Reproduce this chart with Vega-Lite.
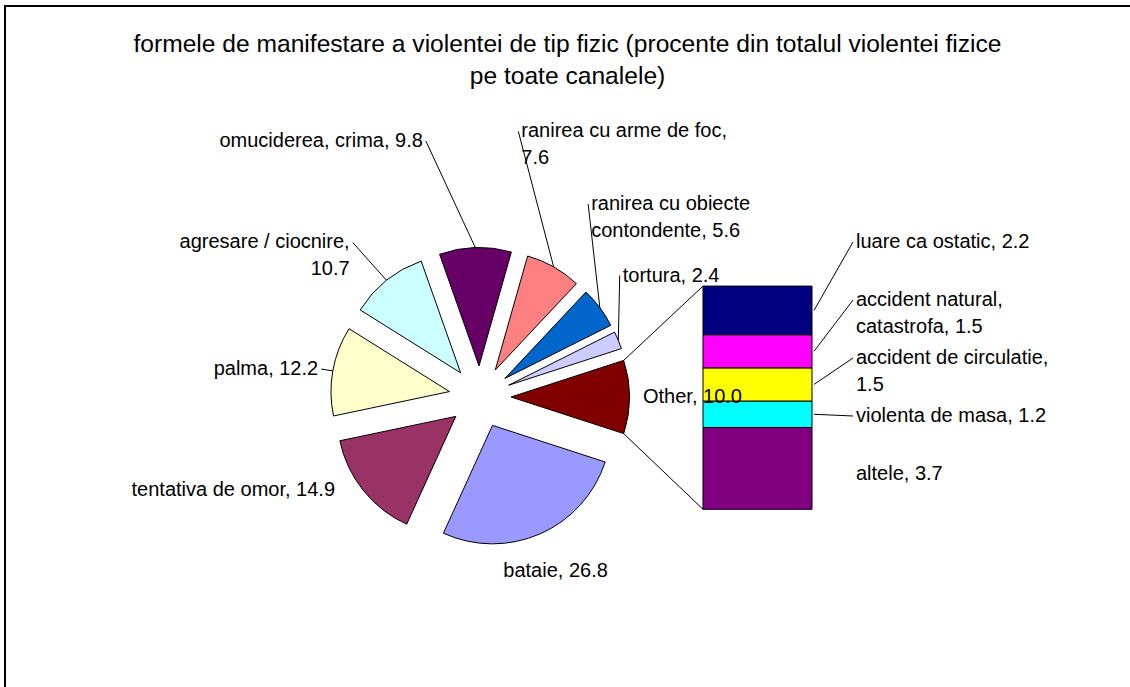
{
  "$schema": "https://vega.github.io/schema/vega-lite/v6.json",
  "autosize": {"type": "none"},
  "width": 1125,
  "height": 681,
  "padding": {"left": 5, "top": 6, "right": 0, "bottom": 0},
  "background": "white",
  "config": {"view": {"stroke": null}},
  "title": {
    "text": ["formele de manifestare a violentei de tip fizic (procente din totalul violentei fizice", "pe toate canalele)"],
    "font": "Liberation Sans", "fontSize": 24.6, "fontWeight": "normal", "color": "black",
    "anchor": "middle", "frame": "group", "baseline": "top", "lineHeight": 32, "offset": -85
  },
  "data": {"values": [
    {"grp": "pie", "k": 1, "label": "Other", "value": 10.0, "t": "Other, 10.0"},
    {"grp": "pie", "k": 2, "label": "bataie", "value": 26.8, "t": "bataie, 26.8"},
    {"grp": "pie", "k": 3, "label": "tentativa de omor", "value": 14.9, "t": "tentativa de omor, 14.9"},
    {"grp": "pie", "k": 4, "label": "palma", "value": 12.2, "t": "palma, 12.2"},
    {"grp": "pie", "k": 5, "label": "agresare / ciocnire", "value": 10.7, "t": "agresare / ciocnire,\n10.7"},
    {"grp": "pie", "k": 6, "label": "omuciderea, crima", "value": 9.8, "t": "omuciderea, crima, 9.8"},
    {"grp": "pie", "k": 7, "label": "ranirea cu arme de foc", "value": 7.6, "t": "ranirea cu arme de foc,\n7.6"},
    {"grp": "pie", "k": 8, "label": "ranirea cu obiecte contondente", "value": 5.6, "t": "ranirea cu obiecte\ncontondente, 5.6"},
    {"grp": "pie", "k": 9, "label": "tortura", "value": 2.4, "t": "tortura, 2.4"},
    {"grp": "bar", "k": 1, "label": "altele", "value": 3.7, "t": "altele, 3.7"},
    {"grp": "bar", "k": 2, "label": "violenta de masa", "value": 1.2, "t": "violenta de masa, 1.2"},
    {"grp": "bar", "k": 3, "label": "accident de circulatie", "value": 1.5, "t": "accident de circulatie,\n1.5"},
    {"grp": "bar", "k": 4, "label": "accident natural, catastrofa", "value": 1.5, "t": "accident natural,\ncatastrofa, 1.5"},
    {"grp": "bar", "k": 5, "label": "luare ca ostatic", "value": 2.2, "t": "luare ca ostatic, 2.2"}
  ]},
  "transform": [
    {"window": [{"op": "sum", "field": "value", "as": "cum"}], "groupby": ["grp"], "sort": [{"field": "k", "order": "ascending"}], "frame": [null, 0]},
    {"calculate": "datum.cum - datum.value", "as": "start"},
    {"calculate": "1.2566371 + (datum.cum - datum.value / 2) * 2 * PI / 100", "as": "mid"},
    {"calculate": "31 * sin(datum.mid)", "as": "ex"},
    {"calculate": "31 * cos(datum.mid)", "as": "ey"},
    {"calculate": "149.5 * sin(datum.mid)", "as": "sx"},
    {"calculate": "149.5 * cos(datum.mid)", "as": "sy"},
    {"calculate": "datum.mid - 0.314 * cos(datum.mid)", "as": "mp"},
    {"calculate": "160 * sin(datum.mp)", "as": "lx"},
    {"calculate": "(225 + 50 * cos(datum.mp)) * cos(datum.mp)", "as": "ly"},
    {"calculate": "datum.ex + 118.5 * sin(1.2566371 + datum.start * 2 * PI / 100)", "as": "c0x"},
    {"calculate": "datum.ey + 118.5 * cos(1.2566371 + datum.start * 2 * PI / 100)", "as": "c0y"},
    {"calculate": "datum.ex + 118.5 * sin(1.2566371 + datum.cum * 2 * PI / 100)", "as": "c1x"},
    {"calculate": "datum.ey + 118.5 * cos(1.2566371 + datum.cum * 2 * PI / 100)", "as": "c1y"},
    {"calculate": "-112.3 + 22.1 * (datum.cum - datum.value)", "as": "b0"},
    {"calculate": "-112.3 + 22.1 * datum.cum", "as": "b1"},
    {"calculate": "(datum.b0 + datum.b1) / 2", "as": "bm"},
    {"calculate": "155 - 58 * (5 - datum.k)", "as": "bly"}
  ],
  "layer": [
    {
      "transform": [{"filter": "datum.grp == 'pie' && datum.k == 1"}],
      "mark": {"type": "rect", "filled": false, "stroke": "black", "strokeWidth": 2},
      "encoding": {
        "x": {"datum": -475, "type": "quantitative", "scale": {"domain": [-475, 650], "nice": false, "zero": false}, "axis": null},
        "x2": {"datum": 900},
        "y": {"datum": 391, "type": "quantitative", "scale": {"domain": [-290, 391], "nice": false, "zero": false}, "axis": null},
        "y2": {"datum": -600}
      }
    },
    {
      "transform": [{"filter": "datum.grp == 'pie'"}],
      "mark": {"type": "arc", "outerRadius": 118.5, "innerRadius": 0, "stroke": "black", "strokeWidth": 1},
      "encoding": {
        "x": {"field": "ex", "type": "quantitative", "scale": {"domain": [-475, 650], "nice": false, "zero": false}, "axis": null},
        "y": {"field": "ey", "type": "quantitative", "scale": {"domain": [-290, 391], "nice": false, "zero": false}, "axis": null},
        "theta": {"field": "start", "type": "quantitative", "stack": null, "scale": {"domain": [0, 100], "range": [1.2566371, 7.5398224]}},
        "theta2": {"field": "cum"},
        "color": {"field": "label", "type": "nominal", "legend": null, "scale": {
          "domain": ["Other", "bataie", "tentativa de omor", "palma", "agresare / ciocnire", "omuciderea, crima", "ranirea cu arme de foc", "ranirea cu obiecte contondente", "tortura", "altele", "violenta de masa", "accident de circulatie", "accident natural, catastrofa", "luare ca ostatic"],
          "range": ["#800000", "#9999FF", "#993366", "#FFFFCC", "#CCFFFF", "#660066", "#FF8080", "#0066CC", "#CCCCFF", "#800080", "#00FFFF", "#FFFF00", "#FF00FF", "#000080"]}}
      }
    },
    {
      "transform": [{"filter": "datum.grp == 'pie' && datum.k == 1"}],
      "mark": {"type": "rule", "color": "black", "strokeWidth": 1},
      "encoding": {
        "x": {"field": "c0x", "type": "quantitative", "scale": {"domain": [-475, 650], "nice": false, "zero": false}, "axis": null},
        "y": {"field": "c0y", "type": "quantitative", "scale": {"domain": [-290, 391], "nice": false, "zero": false}, "axis": null},
        "x2": {"datum": 223},
        "y2": {"datum": 110.9}
      }
    },
    {
      "transform": [{"filter": "datum.grp == 'pie' && datum.k == 1"}],
      "mark": {"type": "rule", "color": "black", "strokeWidth": 1},
      "encoding": {
        "x": {"field": "c1x", "type": "quantitative", "scale": {"domain": [-475, 650], "nice": false, "zero": false}, "axis": null},
        "y": {"field": "c1y", "type": "quantitative", "scale": {"domain": [-290, 391], "nice": false, "zero": false}, "axis": null},
        "x2": {"datum": 223},
        "y2": {"datum": -112.3}
      }
    },
    {
      "transform": [{"filter": "datum.grp == 'bar'"}],
      "mark": {"type": "rect", "stroke": "black", "strokeWidth": 1},
      "encoding": {
        "x": {"datum": 223, "type": "quantitative", "scale": {"domain": [-475, 650], "nice": false, "zero": false}, "axis": null},
        "x2": {"datum": 332},
        "y": {"field": "b0", "type": "quantitative", "scale": {"domain": [-290, 391], "nice": false, "zero": false}, "axis": null},
        "y2": {"field": "b1"},
        "color": {"field": "label", "type": "nominal", "legend": null}
      }
    },
    {
      "transform": [{"filter": "datum.grp == 'pie' && cos(datum.mid) > 0.1"}],
      "mark": {"type": "rule", "color": "black", "strokeWidth": 1},
      "encoding": {
        "x": {"field": "sx", "type": "quantitative", "scale": {"domain": [-475, 650], "nice": false, "zero": false}, "axis": null},
        "y": {"field": "sy", "type": "quantitative", "scale": {"domain": [-290, 391], "nice": false, "zero": false}, "axis": null},
        "x2": {"field": "lx"},
        "y2": {"field": "ly"}
      }
    },
    {
      "transform": [{"filter": "datum.grp == 'pie' && sin(datum.mp) > 0"}],
      "mark": {"type": "text", "align": "left", "baseline": "middle", "dx": 3, "font": "Liberation Sans", "fontSize": 20, "lineBreak": "\n", "lineHeight": 27, "color": "black"},
      "encoding": {
        "x": {"field": "lx", "type": "quantitative", "scale": {"domain": [-475, 650], "nice": false, "zero": false}, "axis": null},
        "y": {"field": "ly", "type": "quantitative", "scale": {"domain": [-290, 391], "nice": false, "zero": false}, "axis": null},
        "text": {"field": "t"}
      }
    },
    {
      "transform": [{"filter": "datum.grp == 'pie' && sin(datum.mp) <= 0"}],
      "mark": {"type": "text", "align": "right", "baseline": "middle", "dx": -3, "font": "Liberation Sans", "fontSize": 20, "lineBreak": "\n", "lineHeight": 27, "color": "black"},
      "encoding": {
        "x": {"field": "lx", "type": "quantitative", "scale": {"domain": [-475, 650], "nice": false, "zero": false}, "axis": null},
        "y": {"field": "ly", "type": "quantitative", "scale": {"domain": [-290, 391], "nice": false, "zero": false}, "axis": null},
        "text": {"field": "t"}
      }
    },
    {
      "transform": [{"filter": "datum.grp == 'bar' && datum.k > 1"}],
      "mark": {"type": "rule", "color": "black", "strokeWidth": 1},
      "encoding": {
        "x": {"datum": 334, "type": "quantitative", "scale": {"domain": [-475, 650], "nice": false, "zero": false}, "axis": null},
        "y": {"field": "bm", "type": "quantitative", "scale": {"domain": [-290, 391], "nice": false, "zero": false}, "axis": null},
        "x2": {"datum": 373},
        "y2": {"field": "bly"}
      }
    },
    {
      "transform": [{"filter": "datum.grp == 'bar'"}],
      "mark": {"type": "text", "align": "left", "baseline": "middle", "font": "Liberation Sans", "fontSize": 20, "lineBreak": "\n", "lineHeight": 27, "color": "black"},
      "encoding": {
        "x": {"datum": 376, "type": "quantitative", "scale": {"domain": [-475, 650], "nice": false, "zero": false}, "axis": null},
        "y": {"field": "bly", "type": "quantitative", "scale": {"domain": [-290, 391], "nice": false, "zero": false}, "axis": null},
        "text": {"field": "t"}
      }
    }
  ]
}
